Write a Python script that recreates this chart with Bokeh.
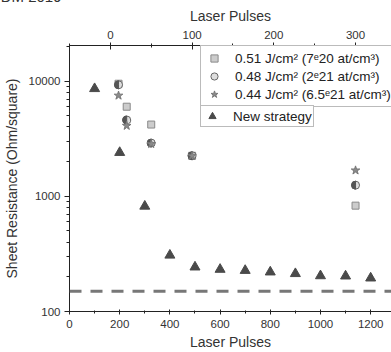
import math
from bokeh.plotting import figure
from bokeh.models import (Range1d, LinearAxis, Span, Legend, LegendItem,
                          PrintfTickFormatter, FixedTicker, Title)
from bokeh.embed import file_html
from bokeh.resources import INLINE

# ---- data ----
old_pulses = [10, 20, 50, 100, 300]
rs_051 = [9500, 6000, 4200, 2250, 830]
rs_048 = [9300, 4600, 2900, 2250, 1250]
rs_044 = [7500, 4100, 2850, 2250, 1680]
new_pulses = [100, 200, 300, 400, 500, 600, 700, 800, 900, 1000, 1100, 1200]
rs_new = [8600, 2400, 820, 308, 243, 232, 227, 220, 213, 204, 203, 195]
target_rs = 150

bottom_ticks = [0, 200, 400, 600, 800, 1000, 1200]
bottom_minor = [100, 300, 500, 700, 900, 1100]
top_ticks = [0, 100, 200, 300]
top_minor = [-50, 50, 150, 250]
y_ticks = [100, 1000, 10000]
y_minor = [m * d for d in (100, 1000, 10000) for m in range(2, 10)]

labels = ["0.51 J/cm\u00b2 (7\u1d4920 at/cm\u00b3)",
          "0.48 J/cm\u00b2 (2\u1d4921 at/cm\u00b3)",
          "0.44 J/cm\u00b2 (6.5\u1d4921 at/cm\u00b3)",
          "New strategy"]

FONT = "Liberation Sans"
TXT = "#333333"

p = figure(width=391, height=367, output_backend="svg", toolbar_location=None,
           y_axis_type="log", x_range=Range1d(0, 1283), y_range=Range1d(100, 20400),
           min_border_left=66, min_border_right=0, min_border_top=0, min_border_bottom=40)
p.margin = (-15, 0, 0, 0)
p.extra_x_ranges = {"top": Range1d(-50, 344)}
p.outline_line_color = None
p.xgrid.visible = False
p.ygrid.visible = False
p.background_fill_color = "white"
p.border_fill_color = "white"

p.title = Title(text="IDM 2019", align="left", offset=-73, standoff=0,
                text_font=FONT, text_font_size="15px", text_font_style="normal",
                text_color=TXT, text_baseline="alphabetic")

def style_axis(ax):
    ax.axis_label_text_font = FONT
    ax.axis_label_text_font_size = "14px"
    ax.axis_label_text_font_style = "normal"
    ax.axis_label_text_color = TXT
    ax.major_label_text_font = FONT
    ax.major_label_text_font_size = "11.5px"
    ax.major_label_text_color = TXT
    ax.axis_line_color = "#222222"
    ax.major_tick_line_color = "#222222"
    ax.minor_tick_line_color = "#222222"

xa = p.xaxis[0]
xa.ticker = FixedTicker(ticks=bottom_ticks, minor_ticks=bottom_minor)
xa.axis_label = "Laser Pulses"
xa.major_tick_in = 2
xa.major_tick_out = 3
xa.minor_tick_in = 1
xa.minor_tick_out = 2
style_axis(xa)
xa.major_label_standoff = 5
xa.axis_label_standoff = 3

ya = p.yaxis[0]
ya.ticker = FixedTicker(ticks=y_ticks, minor_ticks=y_minor)
ya.formatter = PrintfTickFormatter(format="%d")
ya.axis_label = "Sheet Resistance (Ohm/square)"
ya.major_tick_in = 0
ya.major_tick_out = 5
ya.minor_tick_in = 0
ya.minor_tick_out = 3
style_axis(ya)
ya.major_label_standoff = 4
ya.axis_label_standoff = 6

ta = LinearAxis(x_range_name="top", axis_label="Laser Pulses",
                ticker=FixedTicker(ticks=top_ticks, minor_ticks=top_minor))
ta.major_tick_in = 4
ta.major_tick_out = 3
ta.minor_tick_in = 2
ta.minor_tick_out = 2
style_axis(ta)
ta.major_label_standoff = 4
ta.axis_label_standoff = 4
p.add_layout(ta, "above")

p.add_layout(Span(location=target_rs, dimension="width", line_color="#777777",
                  line_width=3, line_dash="12 9"))

sq = p.scatter(old_pulses, rs_051, x_range_name="top", marker="square", size=7,
               fill_color="#cccccc", line_color="#8a8a8a", line_width=1)
circ = p.scatter(old_pulses, rs_048, x_range_name="top", marker="circle", size=8,
                 fill_color="#dddddd", line_color="#666666", line_width=1)
wed = p.wedge(old_pulses, rs_048, radius=4, radius_units="screen",
              start_angle=math.pi / 2, end_angle=3 * math.pi / 2,
              x_range_name="top", fill_color="#555555", line_color="#555555")
star = p.scatter(old_pulses, rs_044, x_range_name="top", marker="star", size=9,
                 fill_color="#8a8a8a", line_color="#777777", line_width=1)
tri = p.scatter(new_pulses, rs_new, marker="triangle", size=10,
                fill_color="#4a4a4a", line_color="#4a4a4a")

def make_legend(items, loc, pad):
    lg = Legend(items=items, location=loc)
    lg.label_text_font = FONT
    lg.label_text_font_size = "13.5px"
    lg.label_text_color = "#222222"
    lg.glyph_width = 20
    lg.glyph_height = 18
    lg.label_height = 18
    lg.spacing = 0
    lg.padding = pad
    lg.margin = 0
    lg.label_standoff = 11
    lg.border_line_color = "#777777"
    lg.border_line_width = 1
    lg.background_fill_alpha = 1
    return lg

leg1 = make_legend([LegendItem(label=labels[0], renderers=[sq]),
                    LegendItem(label=labels[1], renderers=[circ]),
                    LegendItem(label=labels[2], renderers=[star])], (131, 204), 3)
leg2 = make_legend([LegendItem(label=labels[3], renderers=[tri])], (131, 184), 1)
p.add_layout(leg1)
p.add_layout(leg2)

open("out.html", "w").write(file_html(p, INLINE))
